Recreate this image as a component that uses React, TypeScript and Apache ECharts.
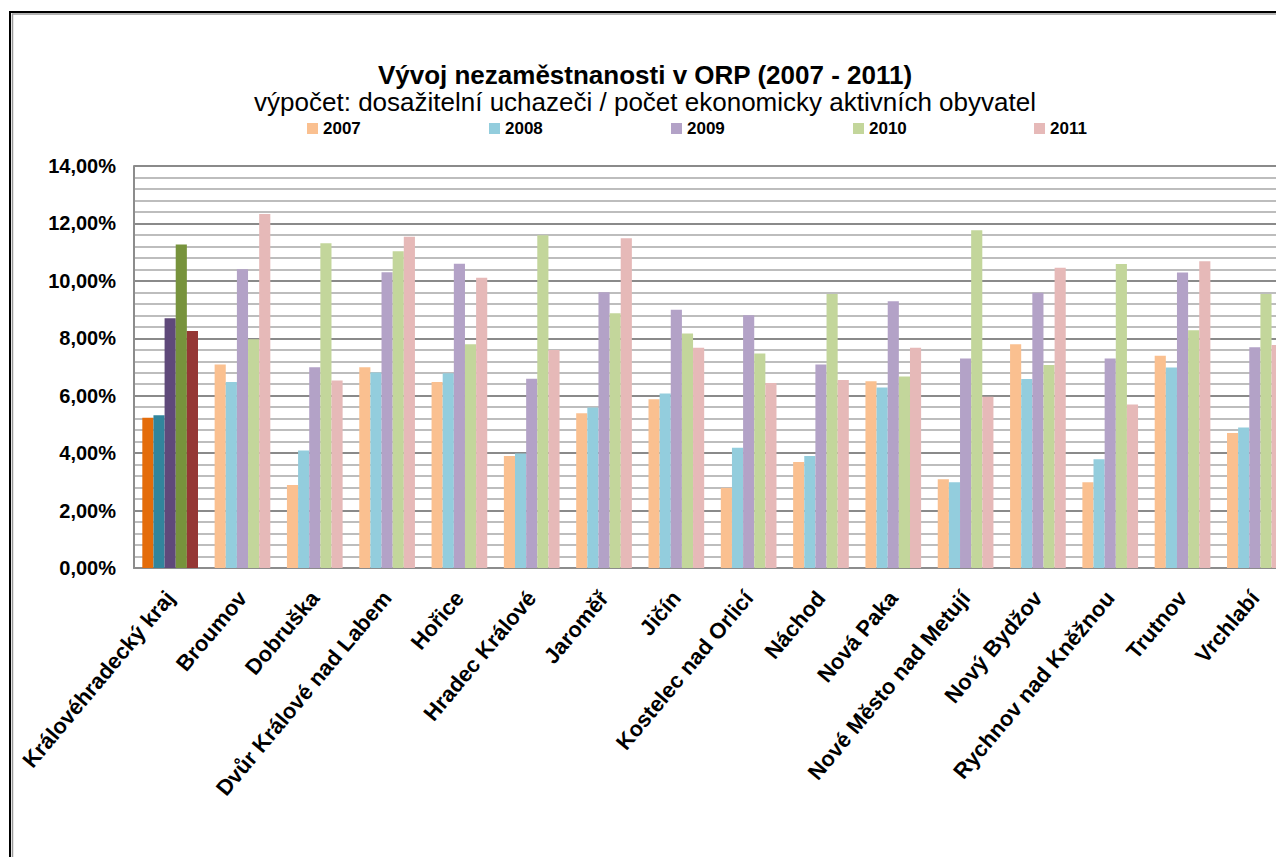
import React, { useEffect, useRef } from "react";
import * as echarts from "echarts";

const categories = [
  "Královéhradecký kraj",
  "Broumov",
  "Dobruška",
  "Dvůr Králové nad Labem",
  "Hořice",
  "Hradec Králové",
  "Jaroměř",
  "Jičín",
  "Kostelec nad Orlicí",
  "Náchod",
  "Nová Paka",
  "Nové Město nad Metují",
  "Nový Bydžov",
  "Rychnov nad Kněžnou",
  "Trutnov",
  "Vrchlabí",
];

const years = ["2007", "2008", "2009", "2010", "2011"];

const v2007 = [5.23, 7.09, 2.89, 6.99, 6.48, 3.9, 5.39, 5.88, 2.79, 3.69, 6.5, 3.09, 7.79, 2.99, 7.39, 4.7];
const v2008 = [5.32, 6.48, 4.09, 6.81, 6.78, 3.99, 5.59, 6.08, 4.19, 3.9, 6.29, 2.99, 6.58, 3.79, 6.98, 4.89];
const v2009 = [8.7, 10.4, 6.99, 10.3, 10.6, 6.59, 9.6, 8.99, 8.8, 7.09, 9.29, 7.3, 9.59, 7.3, 10.29, 7.69];
const v2010 = [11.27, 7.97, 11.31, 11.03, 7.79, 11.59, 8.87, 8.17, 7.47, 9.54, 6.67, 11.76, 7.07, 10.59, 8.28, 9.54];
const v2011 = [8.25, 12.33, 6.53, 11.54, 10.11, 7.59, 11.48, 7.67, 6.44, 6.55, 7.67, 5.96, 10.46, 5.69, 10.68, 7.77];

const pastelColors = ["#FAC090", "#93CDDD", "#B3A2C7", "#C3D69B", "#E6B9B8"];
const darkColors = ["#E46C0A", "#31859C", "#5F497A", "#77933C", "#953735"];

const yTicks = { min: 0, max: 14, interval: 2 };

const FONT = "'Liberation Sans', Arial, sans-serif";

export default function App() {
  const ref = useRef<HTMLDivElement>(null);

  useEffect(() => {
    document.body.style.overflow = "hidden";
    if (!ref.current) return;
    const chart = echarts.init(ref.current, null, { renderer: "svg" });
    const allValues = [v2007, v2008, v2009, v2010, v2011];
    const legendLeft = [299, 481, 663, 845, 1026];

    const series = years.map((y, i) => ({
      name: y,
      type: "bar",
      barGap: "0%",
      barCategoryGap: "23%",
      itemStyle: { color: pastelColors[i] },
      data: allValues[i].map((v, j) =>
        j === 0 ? { value: v, itemStyle: { color: darkColors[i] } } : v
      ),
    }));

    chart.setOption({
      animation: false,
      backgroundColor: "#ffffff",
      title: [
        {
          text: "Vývoj nezaměstnanosti v ORP (2007 - 2011)",
          left: 632,
          top: 49,
          textAlign: "center",
          textStyle: { fontFamily: FONT, fontSize: 26, lineHeight: 26, fontWeight: "bold", color: "#000" },
        },
        {
          text: "výpočet: dosažitelní uchazeči / počet ekonomicky aktivních obyvatel",
          left: 632,
          top: 77,
          textAlign: "center",
          textStyle: { fontFamily: FONT, fontSize: 26, lineHeight: 24, fontWeight: "normal", color: "#000" },
        },
      ],
      legend: years.map((y, i) => ({
        data: [y],
        left: legendLeft[i],
        top: 112,
        padding: 0,
        icon: "rect",
        itemWidth: 11,
        itemHeight: 11,
        textStyle: { fontFamily: FONT, fontSize: 17, fontWeight: "bold", color: "#000" },
        selectedMode: false,
      })),
      grid: { left: 126, top: 158, right: 37, bottom: 289, containLabel: false },
      xAxis: {
        type: "category",
        data: categories,
        axisLine: { show: true, lineStyle: { color: "#8c8c8c", width: 2 } },
        axisTick: { show: false },
        axisLabel: {
          rotate: 50,
          interval: 0,
          margin: 26,
          fontFamily: FONT,
          fontSize: 22,
          fontWeight: "bold",
          color: "#000",
        },
      },
      yAxis: {
        type: "value",
        min: yTicks.min,
        max: yTicks.max,
        interval: yTicks.interval,
        axisLine: { show: true, lineStyle: { color: "#8c8c8c", width: 2 } },
        axisTick: { show: false },
        minorTick: { show: false, splitNumber: 5 },
        axisLabel: {
          margin: 18,
          fontFamily: FONT,
          fontSize: 20,
          fontWeight: "bold",
          color: "#000",
          formatter: (v: number) => v.toFixed(2).replace(".", ",") + "%",
        },
        splitLine: { show: true, lineStyle: { color: "#8a8a8a", width: 2 } },
        minorSplitLine: { show: true, lineStyle: { color: "#bdbdbd", width: 2 } },
      },
      graphic: [
        {
          type: "rect",
          silent: true,
          shape: { x: 2, y: 4, width: 2000, height: 2000 },
          style: { fill: "none", stroke: "#000", lineWidth: 2 },
        },
        {
          type: "rect",
          silent: true,
          shape: { x: 4.5, y: 6, width: 2000, height: 2000 },
          style: { fill: "none", stroke: "#9a9a9a", lineWidth: 1.5 },
        },
      ],
      series,
    });
    return () => chart.dispose();
  }, []);

  return (
    <div style={{ width: 1276, height: 849, overflow: "hidden", position: "relative" }}>
      <div ref={ref} style={{ width: 1320, height: 849 }} />
    </div>
  );
}
